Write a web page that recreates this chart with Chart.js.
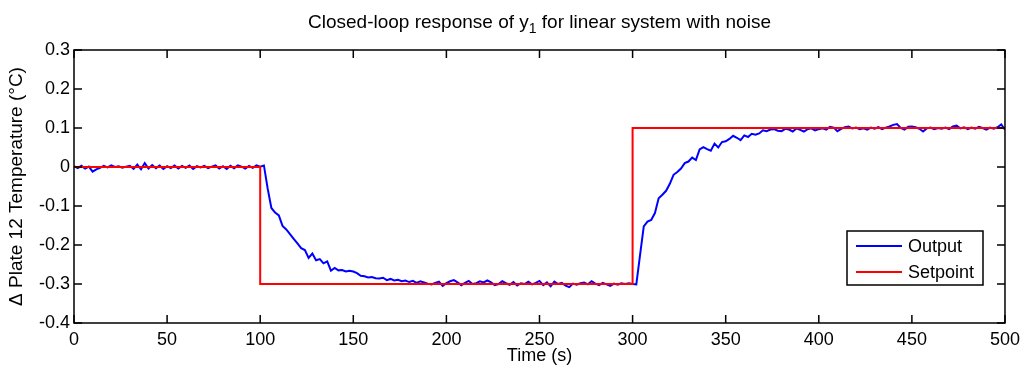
<!DOCTYPE html>
<html>
<head>
<meta charset="utf-8">
<title>Closed-loop response of y1</title>
<script src="https://cdn.jsdelivr.net/npm/chart.js@4.4.1/dist/chart.umd.min.js"></script>
<style>
  html, body { margin: 0; padding: 0; background: #fff; }
  #wrap { width: 1026px; height: 372px; }
</style>
</head>
<body>
<div id="wrap"><canvas id="responseChart" width="1026" height="372"></canvas></div>
<script>
// ----------------------------
// 1. Data
// ----------------------------
const sampleStep = 2; // seconds between output samples

// Output y1, t = 0, 2, 4, ... 500 s
const outputValues = [
  // 0 - 98
  0.002, -0.003, 0.003, -0.004, 0.001, -0.012, -0.006, -0.002, 0.003, -0.001,
  0.004, 0.000, 0.002, -0.002, 0.001, 0.003, -0.005, 0.006, -0.006, 0.010,
  -0.004, 0.005, -0.003, 0.004, -0.005, 0.002, -0.003, 0.004, -0.004, 0.003,
  -0.002, 0.004, -0.005, 0.002, -0.001, 0.003, -0.003, 0.001, 0.004, -0.004,
  0.002, -0.005, 0.003, -0.003, 0.004, 0.001, -0.004, 0.003, -0.002, 0.004,
  // 100 - 198
  0.001, 0.004, -0.055, -0.105, -0.117, -0.124, -0.151, -0.160, -0.172, -0.184,
  -0.196, -0.208, -0.213, -0.233, -0.222, -0.239, -0.236, -0.247, -0.242, -0.266,
  -0.259, -0.265, -0.264, -0.268, -0.266, -0.268, -0.272, -0.279, -0.280, -0.283,
  -0.282, -0.285, -0.286, -0.284, -0.290, -0.287, -0.291, -0.289, -0.293, -0.291,
  -0.295, -0.292, -0.297, -0.293, -0.296, -0.299, -0.301, -0.297, -0.294, -0.305,
  // 200 - 298
  -0.298, -0.293, -0.290, -0.296, -0.303, -0.297, -0.292, -0.300, -0.298, -0.293,
  -0.296, -0.291, -0.296, -0.303, -0.300, -0.293, -0.298, -0.302, -0.295, -0.304,
  -0.298, -0.300, -0.294, -0.301, -0.297, -0.292, -0.303, -0.296, -0.306, -0.294,
  -0.300, -0.297, -0.304, -0.308, -0.299, -0.302, -0.298, -0.296, -0.301, -0.293,
  -0.299, -0.303, -0.297, -0.301, -0.305, -0.299, -0.302, -0.298, -0.300, -0.298,
  // 300 - 398
  -0.300, -0.301, -0.226, -0.152, -0.140, -0.136, -0.118, -0.080, -0.071, -0.061,
  -0.043, -0.020, -0.013, -0.004, 0.010, 0.014, 0.024, 0.018, 0.045, 0.051,
  0.046, 0.042, 0.060, 0.050, 0.064, 0.066, 0.072, 0.080, 0.075, 0.069,
  0.081, 0.077, 0.085, 0.083, 0.086, 0.094, 0.092, 0.096, 0.097, 0.093,
  0.092, 0.098, 0.096, 0.091, 0.099, 0.095, 0.091, 0.097, 0.099, 0.094,
  // 400 - 500
  0.097, 0.099, 0.096, 0.103, 0.101, 0.092, 0.098, 0.102, 0.104, 0.099,
  0.101, 0.097, 0.099, 0.096, 0.101, 0.098, 0.102, 0.097, 0.101, 0.104,
  0.108, 0.110, 0.100, 0.096, 0.103, 0.104, 0.102, 0.098, 0.091, 0.099,
  0.101, 0.097, 0.100, 0.098, 0.101, 0.097, 0.104, 0.106, 0.099, 0.102,
  0.097, 0.101, 0.098, 0.103, 0.100, 0.096, 0.101, 0.098, 0.102, 0.109,
  0.096
];

// Setpoint steps
const setpointTimes  = [0, 100, 100, 300, 300, 500];
const setpointValues = [0, 0, -0.3, -0.3, 0.1, 0.1];

// Axis ticks
const xTicks = [0, 50, 100, 150, 200, 250, 300, 350, 400, 450, 500];
const yTicks = [-0.4, -0.3, -0.2, -0.1, 0, 0.1, 0.2, 0.3];

const titleParts = ['Closed-loop response of y', '1', ' for linear system with noise'];
const FONT = '"Liberation Sans", Arial, Helvetica, sans-serif';

// ----------------------------
// 2. Build datasets
// ----------------------------
const outputPoints = outputValues.map((v, i) => ({ x: i * sampleStep, y: v }));
const setpointPoints = setpointTimes.map((t, i) => ({ x: t, y: setpointValues[i] }));

// ----------------------------
// 3. MATLAB-ish helpers (box, inner ticks, title, legend)
// ----------------------------
const matlabFrame = {
    id: 'matlabFrame',
    afterDraw(chart) {
        const { ctx, chartArea: a, scales } = chart;
        const tickLen = 8;
        ctx.save();
        ctx.strokeStyle = '#000';
        ctx.lineWidth = 1.5;
        ctx.beginPath();
        scales.x.ticks.forEach(t => {
            const px = scales.x.getPixelForValue(t.value);
            ctx.moveTo(px, a.bottom); ctx.lineTo(px, a.bottom - tickLen);
            ctx.moveTo(px, a.top); ctx.lineTo(px, a.top + tickLen);
        });
        scales.y.ticks.forEach(t => {
            const py = scales.y.getPixelForValue(t.value);
            ctx.moveTo(a.left, py); ctx.lineTo(a.left + tickLen, py);
            ctx.moveTo(a.right, py); ctx.lineTo(a.right - tickLen, py);
        });
        ctx.stroke();
        ctx.strokeRect(a.left, a.top, a.right - a.left, a.bottom - a.top);

        // title with subscript
        const main = '19px ' + FONT;
        const sub = '14px ' + FONT;
        ctx.fillStyle = '#000';
        ctx.textBaseline = 'alphabetic';
        ctx.textAlign = 'left';
        ctx.font = main;
        const w0 = ctx.measureText(titleParts[0]).width;
        const w2 = ctx.measureText(titleParts[2]).width;
        ctx.font = sub;
        const w1 = ctx.measureText(titleParts[1]).width;
        let x = (a.left + a.right) / 2 - (w0 + w1 + w2) / 2;
        const base = 28;
        ctx.font = main;
        ctx.fillText(titleParts[0], x, base); x += w0;
        ctx.font = sub;
        ctx.fillText(titleParts[1], x, base + 5); x += w1;
        ctx.font = main;
        ctx.fillText(titleParts[2], x, base);

        // legend box
        const legendFont = '18px ' + FONT;
        const box = { left: 847, top: 231, width: 136, height: 54 };
        ctx.fillStyle = '#fff';
        ctx.fillRect(box.left, box.top, box.width, box.height);
        ctx.lineWidth = 1.5;
        ctx.strokeRect(box.left, box.top, box.width, box.height);
        chart.data.datasets.forEach((ds, i) => {
            const cy = box.top + 15 + i * 26;
            ctx.strokeStyle = ds.borderColor;
            ctx.lineWidth = 2;
            ctx.beginPath();
            ctx.moveTo(box.left + 9, cy);
            ctx.lineTo(box.left + 55, cy);
            ctx.stroke();
            ctx.fillStyle = '#000';
            ctx.font = legendFont;
            ctx.textBaseline = 'middle';
            ctx.fillText(ds.label, box.left + 61, cy + 1);
        });
        ctx.restore();
    }
};

// ----------------------------
// 4. Chart
// ----------------------------
const ctx = document.getElementById('responseChart').getContext('2d');
const responseChart = new Chart(ctx, {
    type: 'line',
    data: {
        datasets: [{
            label: 'Output',
            data: outputPoints,
            borderColor: '#0000ff',
            borderWidth: 2,
            pointRadius: 0,
            tension: 0,
            fill: false,
            order: 1
        }, {
            label: 'Setpoint',
            data: setpointPoints,
            borderColor: '#ff0000',
            borderWidth: 2,
            pointRadius: 0,
            tension: 0,
            fill: false,
            order: 0
        }]
    },
    options: {
        responsive: false,
        animation: false,
        layout: { padding: { top: 50, right: 21, left: 0, bottom: 0 } },
        plugins: {
            legend: { display: false },
            title: { display: false },
            tooltip: { enabled: false }
        },
        scales: {
            x: {
                type: 'linear',
                min: 0,
                max: 500,
                afterBuildTicks: s => { s.ticks = xTicks.map(v => ({ value: v })); },
                afterFit: s => { s.height = 49; },
                grid: { display: false, drawTicks: false },
                border: { display: false },
                ticks: {
                    color: '#000',
                    font: { family: FONT, size: 18 },
                    padding: 6,
                    maxRotation: 0,
                    callback: v => String(v)
                },
                title: {
                    display: true,
                    text: 'Time (s)',
                    color: '#000',
                    font: { family: FONT, size: 18 },
                    padding: { top: 0, bottom: 5 }
                }
            },
            y: {
                min: -0.4,
                max: 0.3,
                afterBuildTicks: s => { s.ticks = yTicks.map(v => ({ value: v })); },
                afterFit: s => { s.width = 74; },
                grid: { display: false, drawTicks: false },
                border: { display: false },
                ticks: {
                    color: '#000',
                    font: { family: FONT, size: 18 },
                    padding: 4,
                    callback: v => (Math.abs(v) < 1e-9 ? '0' : v.toFixed(1))
                },
                title: {
                    display: true,
                    text: '\u0394 Plate 12 Temperature (\u00B0C)',
                    color: '#000',
                    font: { family: FONT, size: 19 },
                    padding: { top: 5, bottom: 0 }
                }
            }
        }
    },
    plugins: [matlabFrame]
});
</script>
</body>
</html>
